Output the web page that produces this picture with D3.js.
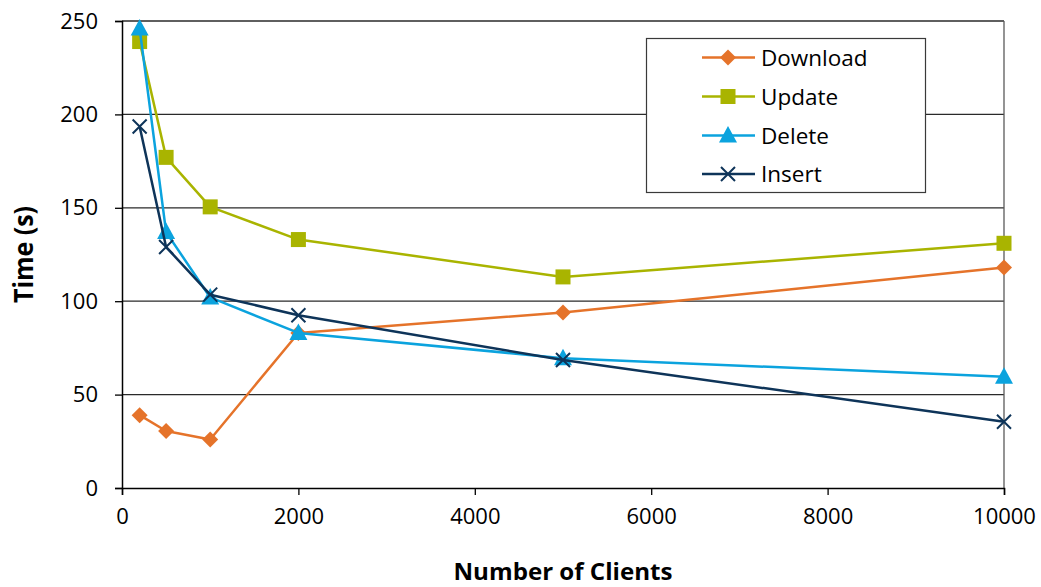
<!DOCTYPE html>
<html>
<head>
<meta charset="utf-8">
<script src="https://cdn.jsdelivr.net/npm/d3@7"></script>
<style>
  html, body { margin: 0; padding: 0; background: #fff; }
  svg { display: block; font-family: "Open Sans", "Noto Sans", sans-serif; }
</style>
</head>
<body>
<svg id="chart" width="1041" height="587"></svg>
<script>
// Number of clients on the x axis
const clients = [200, 500, 1000, 2000, 5000, 10000];

// Completion times (seconds) per operation
const download = [39, 30.5, 26, 83, 94, 118];
const update   = [239, 177, 150.5, 133, 113, 131];
const del      = [246, 137, 102, 83, 69.5, 59.5];
const insert   = [193.5, 129, 103.5, 92.5, 68.5, 35.5];

const seriesNames = ["Download", "Update", "Delete", "Insert"];
const xTicks = [0, 2000, 4000, 6000, 8000, 10000];
const yTicks = [0, 50, 100, 150, 200, 250];

const series = [
  { name: seriesNames[0], values: download, color: "#E5732A", marker: "diamond" },
  { name: seriesNames[1], values: update,   color: "#A9B400", marker: "square" },
  { name: seriesNames[2], values: del,      color: "#0BA3DE", marker: "triangle" },
  { name: seriesNames[3], values: insert,   color: "#0E3459", marker: "cross" }
];

const svg = d3.select("#chart");
const margin = { left: 122, top: 21, right: 37, bottom: 99 };
const W = 1041, H = 587;
const x = d3.scaleLinear().domain([0, 10000]).range([margin.left, W - margin.right]);
const y = d3.scaleLinear().domain([0, 250]).range([H - margin.bottom, margin.top]);

// Horizontal gridlines
svg.append("g")
  .selectAll("line")
  .data(yTicks.filter(d => d > 0))
  .join("line")
  .attr("x1", x(0)).attr("x2", x(10000))
  .attr("y1", d => y(d)).attr("y2", d => y(d))
  .attr("stroke", "#2a2a2a").attr("stroke-width", 1.3);

// Right border of plot area
svg.append("line")
  .attr("x1", x(10000)).attr("x2", x(10000))
  .attr("y1", y(250)).attr("y2", y(0))
  .attr("stroke", "#5a5a5a").attr("stroke-width", 1.3);

// Y axis
const yAxis = d3.axisLeft(y).tickValues(yTicks).tickSize(7).tickPadding(17);
const gy = svg.append("g").attr("transform", `translate(${x(0)},0)`).call(yAxis);
gy.select(".domain").attr("stroke", "#000").attr("stroke-width", 1.5);
gy.selectAll(".tick line").attr("stroke", "#000").attr("stroke-width", 1.3);
gy.selectAll(".tick text").attr("font-size", 22).attr("fill", "#000")
  .attr("font-family", "Open Sans");

// X axis
const xAxis = d3.axisBottom(x).tickValues(xTicks).tickSize(7).tickPadding(13).tickFormat(d3.format("d"));
const gx = svg.append("g").attr("transform", `translate(0,${y(0)})`).call(xAxis);
gx.select(".domain").attr("stroke", "#000").attr("stroke-width", 1.5);
gx.selectAll(".tick line").attr("stroke", "#000").attr("stroke-width", 1.3);
gx.selectAll(".tick text").attr("font-size", 22).attr("fill", "#000")
  .attr("font-family", "Open Sans");

// Axis titles
svg.append("text")
  .attr("x", (x(0) + x(10000)) / 2).attr("y", 580)
  .attr("text-anchor", "middle")
  .attr("font-size", 24).attr("font-weight", "bold")
  .attr("textLength", 219).attr("lengthAdjust", "spacingAndGlyphs")
  .text("Number of Clients");

svg.append("text")
  .attr("transform", `translate(33,${(y(0) + y(250)) / 2}) rotate(-90)`)
  .attr("text-anchor", "middle")
  .attr("font-size", 26).attr("font-weight", "bold")
  .attr("textLength", 97).attr("lengthAdjust", "spacingAndGlyphs")
  .text("Time (s)");

// Marker shapes
function drawMarker(g, type, color) {
  if (type === "diamond") {
    g.append("path").attr("d", "M0,-8L8,0L0,8L-8,0Z").attr("fill", color);
  } else if (type === "square") {
    g.append("rect").attr("x", -7.5).attr("y", -7.5).attr("width", 15).attr("height", 15).attr("fill", color);
  } else if (type === "triangle") {
    g.append("path").attr("d", "M0,-9.5L9,7L-9,7Z").attr("fill", color);
  } else {
    g.append("path").attr("d", "M-7,-7L7,7M-7,7L7,-7")
      .attr("stroke", color).attr("stroke-width", 2).attr("fill", "none");
  }
}

const line = d3.line().x(d => x(d[0])).y(d => y(d[1]));

series.forEach(s => {
  const pts = clients.map((c, i) => [c, s.values[i]]);
  svg.append("path")
    .datum(pts)
    .attr("d", line)
    .attr("fill", "none")
    .attr("stroke", s.color)
    .attr("stroke-width", 2.5)
    .attr("stroke-linejoin", "round");
  pts.forEach(p => {
    const g = svg.append("g").attr("transform", `translate(${x(p[0])},${y(p[1])})`);
    drawMarker(g, s.marker, s.color);
  });
});

// Legend
const legend = svg.append("g");
legend.append("rect")
  .attr("x", 646.5).attr("y", 38.5).attr("width", 279).attr("height", 154)
  .attr("fill", "#fff").attr("stroke", "#3a3a3a").attr("stroke-width", 1.2);

const rowY = [57.5, 96.5, 135.5, 174];
series.forEach((s, i) => {
  const g = legend.append("g").attr("transform", `translate(0,${rowY[i]})`);
  g.append("line").attr("x1", 702).attr("x2", 755).attr("y1", 0).attr("y2", 0)
    .attr("stroke", s.color).attr("stroke-width", 2.5);
  const m = g.append("g").attr("transform", "translate(728,0)");
  drawMarker(m, s.marker, s.color);
  g.append("text").attr("x", 761).attr("y", 8)
    .attr("font-size", 22.5).attr("fill", "#000")
    .text(s.name);
});
</script>
</body>
</html>
